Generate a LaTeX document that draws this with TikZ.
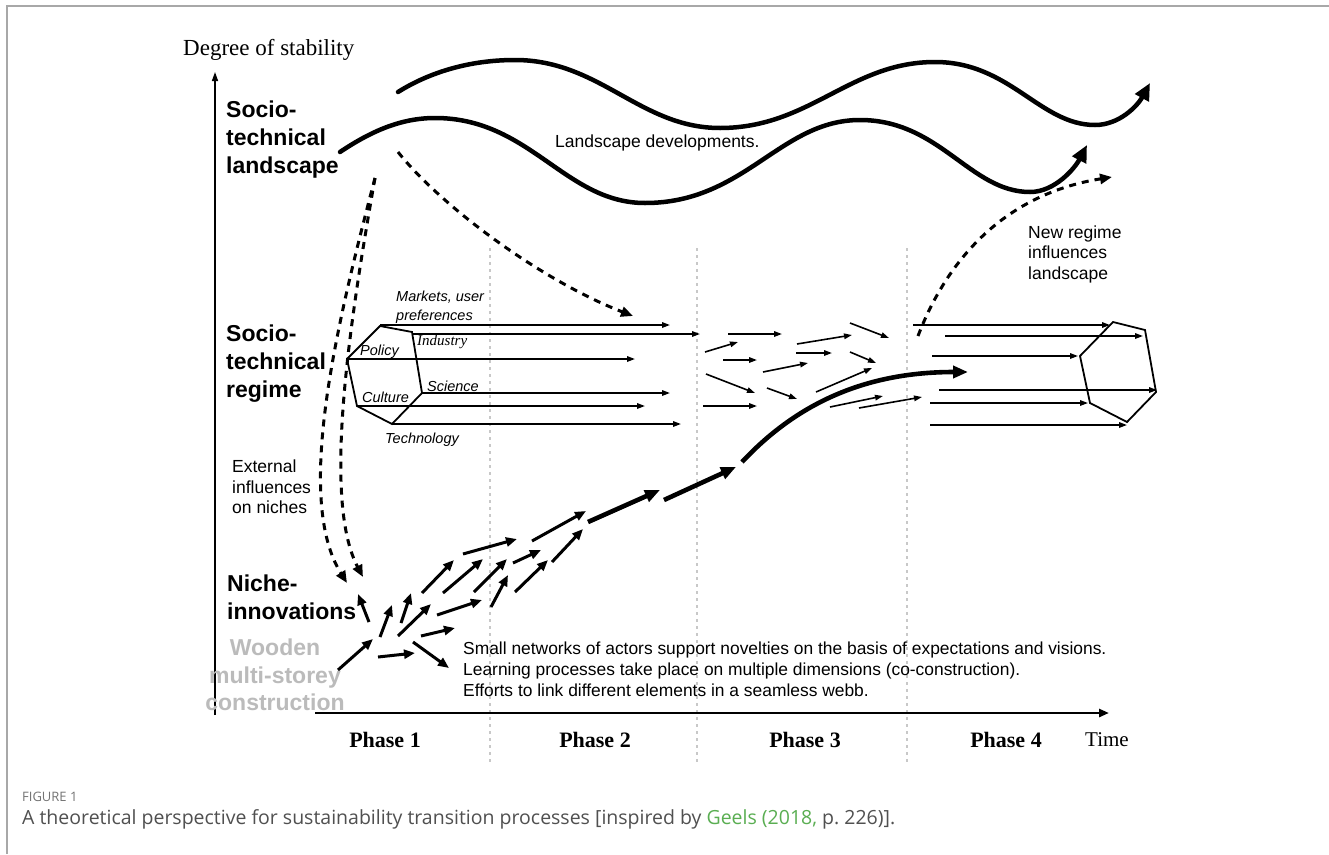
\documentclass[tikz,border=0pt]{standalone}
\usepackage{fontspec}
\setmainfont{Liberation Serif}
\newfontfamily\arial{Liberation Sans}
\newfontfamily\capfont{Open Sans}
\usetikzlibrary{arrows.meta}
\definecolor{framegray}{HTML}{A8A8A8}
\definecolor{dotgray}{HTML}{C8C8C8}
\definecolor{woodgray}{HTML}{BBBBBB}
\definecolor{capgray}{HTML}{505050}
\definecolor{capgreen}{HTML}{5AAE52}
\tikzset{
  reg/.style={line width=1.6pt,-{Triangle[length=8pt,width=5.5pt]}},
  hexa/.style={line width=1.8pt,line join=miter},
  nich/.style={line width=3pt,-{Triangle[length=11pt,width=9pt]}},
  thick arr/.style={line width=4.6pt,-{Triangle[length=15pt,width=12pt]}},
  wave/.style={line width=4.5pt,line cap=round},
  wavearr/.style={wave,-{Triangle[length=17pt,width=15pt]}},
  dasharr/.style={line width=3pt,dash pattern=on 7pt off 6pt,-{Triangle[length=12pt,width=10pt]}},
  dotline/.style={draw=dotgray,line width=2pt,dash pattern=on 3pt off 4pt},
  bigl/.style={font=\arial\bfseries\fontsize{23}{28}\selectfont,align=left,inner sep=0pt,anchor=west},
  smalll/.style={font=\arial\fontsize{17.5}{20.5}\selectfont,align=left,inner sep=0pt,anchor=west},
  ital/.style={font=\arial\itshape\fontsize{14.5}{19}\selectfont,align=left,inner sep=0pt,anchor=west},
  phase/.style={font=\bfseries\fontsize{22}{26}\selectfont,inner sep=0pt},
}
\begin{document}
\begin{tikzpicture}[x=1pt,y=-1pt]
\useasboundingbox (0,0) rectangle (1329,854);
\fill[white] (0,0) rectangle (1329,854);
% frame
\draw[framegray,line width=1.6pt] (7,854) -- (7,6) -- (1329,6);

% dotted phase separators
\draw[dotline] (490,248) -- (490,765);
\draw[dotline] (697,248) -- (697,765);
\draw[dotline] (907,248) -- (907,765);

% axes
\node[font=\fontsize{23}{27}\selectfont,inner sep=0pt,anchor=west] (ylab) at (183,50) {Degree of stability};
\coordinate (ybot) at (215,715);
\coordinate (ytop) at (215,72);
\draw[line width=1.5pt,-{Triangle[length=9pt,width=6pt]}] (ybot) -- (ytop);
\coordinate (xl) at (315,713);
\coordinate (xr) at (1109,713);
\draw[line width=2.5pt,-{Triangle[length=10pt,width=8pt]}] (xl) -- (xr);

\node[phase] (p1) at (385,740) {Phase 1};
\node[phase] (p2) at (595,740) {Phase 2};
\node[phase] (p3) at (805,740) {Phase 3};
\node[phase] (p4) at (1006,740) {Phase 4};
\node[font=\fontsize{21}{25}\selectfont,inner sep=0pt,anchor=west] (time) at (1085,740) {Time};

% level labels
\node[bigl] (land) at (226,140) {Socio-\\technical\\landscape};
\node[bigl] (regime) at (226,364) {Socio-\\technical\\regime};
\node[bigl] (niche) at (227,597) {Niche-\\innovations};
\node[font=\arial\bfseries\fontsize{23}{27.5}\selectfont,align=center,inner sep=0pt,text=woodgray] (wood) at (275,675) {Wooden\\multi-storey\\construction};

% landscape waves
\draw[wavearr] (398,92) .. controls (430,72) and (470,60) .. (515,60)
  .. controls (600,60) and (640,128) .. (720,128)
  .. controls (810,128) and (850,62) .. (935,62)
  .. controls (1010,62) and (1040,125) .. (1095,125)
  .. controls (1120,125) and (1138,105) .. (1150,83);
\draw[wavearr] (340,152) .. controls (370,132) and (400,118) .. (435,118)
  .. controls (530,118) and (565,203) .. (645,203)
  .. controls (745,203) and (780,120) .. (860,120)
  .. controls (940,120) and (970,192) .. (1030,192)
  .. controls (1055,192) and (1075,168) .. (1087,145);
\node[smalll] (ldev) at (555,143) {Landscape developments.};

% dashed influences
\draw[dasharr] (398,152) .. controls (440,205) and (540,280) .. (633,316);
\draw[dasharr] (375,178) .. controls (335,330) and (295,500) .. (347,583);
\draw[dasharr] (375,178) .. controls (350,320) and (322,500) .. (363,577);
\draw[dasharr] (918,336) .. controls (945,265) and (1000,195) .. (1112,177);
\node[smalll] (ext) at (232,487) {External\\influences\\on niches};
\node[smalll] (newreg) at (1028,254) {New regime\\influences\\landscape};

% regime hexagon (left) and arrows
\draw[hexa] (380,326) -- (412,332) -- (422,393) -- (392,424) -- (357,406) -- (347,359) -- cycle;
\draw[reg] (380,325) -- (670,325);
\draw[reg] (412,334) -- (700,334);
\draw[reg] (347,359) -- (635,359);
\draw[reg] (422,393) -- (670,393);
\draw[reg] (357,406) -- (645,406);
\draw[reg] (392,424) -- (681,424);
\node[ital] (mk) at (396,307.5) {Markets, user\\preferences};
\node[font=\itshape\fontsize{15}{18}\selectfont,inner sep=0pt,anchor=west] (ind) at (417,342) {Industry};
\node[ital] (pol) at (360,352) {Policy};
\node[ital] (cul) at (362,397) {Culture};
\node[ital] (sci) at (427,386) {Science};
\node[ital] (tec) at (385,440) {Technology};

% phase 3 scattered arrows
\draw[reg] (728,334) -- (782,334);
\draw[reg] (705,352) -- (738,342);
\draw[reg] (723,360) -- (757,360);
\draw[reg] (706,374) -- (755,393);
\draw[reg] (703,406) -- (757,406);
\draw[reg] (763,372) -- (808,363);
\draw[reg] (767,388) -- (797,399);
\draw[reg] (797,344) -- (852,335);
\draw[reg] (796,353) -- (832,353);
\draw[reg] (850,323) -- (889,338);
\draw[reg] (850,352) -- (876,363);
\draw[reg] (816,392) -- (872,368);
\draw[reg] (830,407) -- (883,396);
\draw[reg] (859,408) -- (922,397);

% phase 4 arrows and new regime hexagon
\draw[reg] (913,325) -- (1110,325);
\draw[reg] (945,336) -- (1143,336);
\draw[reg] (932,356) -- (1078,356);
\draw[reg] (939,390) -- (1157,390);
\draw[reg] (930,403) -- (1088,403);
\draw[reg] (930,425) -- (1127,425);
\draw[hexa] (1113,322) -- (1145,330) -- (1156,392) -- (1127,422) -- (1090,403) -- (1080,356) -- cycle;

% breakthrough arrow
\draw[thick arr] (742,462) .. controls (800,400) and (870,372) .. (968,372);

% niche arrows
\draw[nich] (338,670) -- (373,639);
\draw[nich] (369,622) -- (358,594);
\draw[nich] (380,637) -- (392,605);
\draw[nich] (401,623) -- (411,593);
\draw[nich] (398,636) -- (431,604);
\draw[nich] (378,657) -- (415,653);
\draw[nich] (413,642) -- (449,668);
\draw[nich] (421,636) -- (455,628);
\draw[nich] (437,615) -- (482,600);
\draw[nich] (422,593) -- (454,560);
\draw[nich] (443,593) -- (483,559);
\draw[nich] (463,554) -- (517,539);
\draw[nich] (474,592) -- (507,559);
\draw[nich] (491,607) -- (508,575);
\draw[nich] (513,563) -- (541,550);
\draw[nich] (515,592) -- (548,560);
\draw[nich] (532,541) -- (586,511);
\draw[nich] (552,562) -- (583,529);
\draw[thick arr] (588,522) -- (660,490);
\draw[thick arr] (664,500) -- (736,467);

\node[font=\arial\fontsize{17.4}{21}\selectfont,align=left,inner sep=0pt,anchor=west] (desc) at (463,669) {Small networks of actors support novelties on the basis of expectations and visions.\\Learning processes take place on multiple dimensions (co-construction).\\Efforts to link different elements in a seamless webb.};

% caption
\node[font=\capfont\fontsize{13}{15}\selectfont,text=capgray!80,inner sep=0pt,anchor=west] (figlab) at (22,797) {FIGURE 1};
\node[font=\capfont\fontsize{19.5}{23}\selectfont,text=capgray,inner sep=0pt,anchor=west] (cap) at (22,819) {A theoretical perspective for sustainability transition processes [inspired by \textcolor{capgreen}{Geels (2018,} p.~226)].};
\end{tikzpicture}
\end{document}
